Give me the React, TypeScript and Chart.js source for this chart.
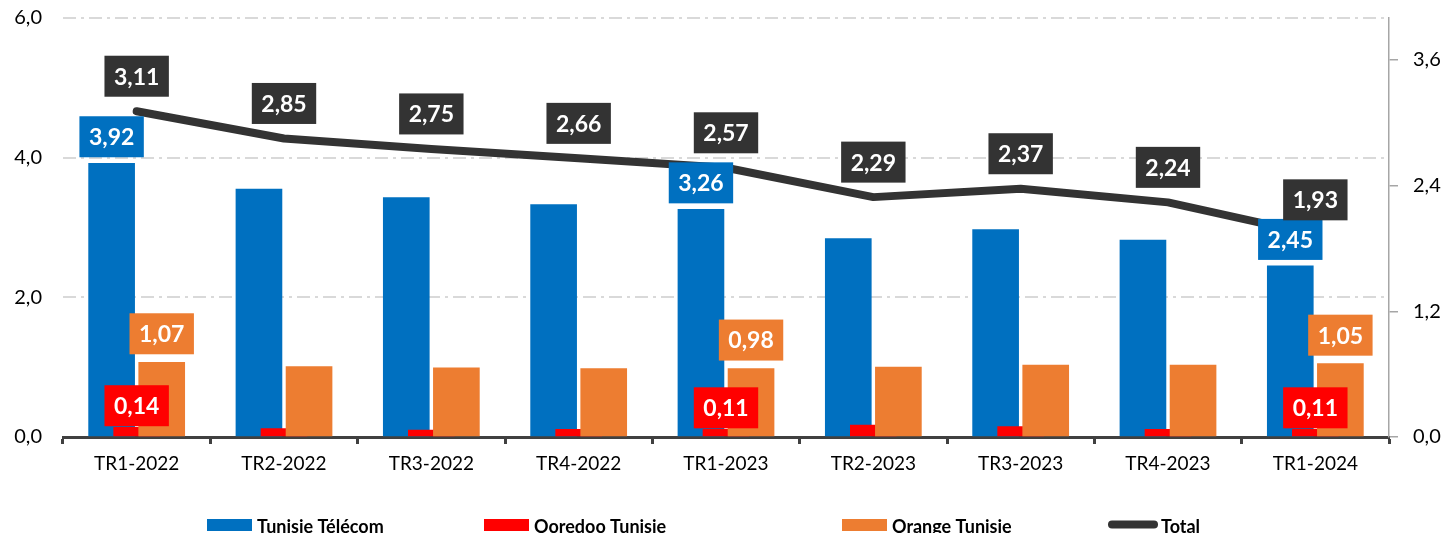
import React, { useEffect, useRef } from 'react';
import { Chart, registerables } from 'chart.js';

Chart.register(...registerables);

const categories = ['TR1-2022', 'TR2-2022', 'TR3-2022', 'TR4-2022', 'TR1-2023', 'TR2-2023', 'TR3-2023', 'TR4-2023', 'TR1-2024'];
const tunisieTelecom = [3.92, 3.55, 3.43, 3.33, 3.26, 2.84, 2.97, 2.82, 2.45];
const ooredooTunisie = [0.14, 0.12, 0.10, 0.11, 0.11, 0.17, 0.15, 0.11, 0.11];
const orangeTunisie = [1.07, 1.01, 0.99, 0.98, 0.98, 1.00, 1.03, 1.03, 1.05];
const totalMarket = [3.11, 2.85, 2.75, 2.66, 2.57, 2.29, 2.37, 2.24, 1.93];
const leftTicks = [0, 2, 4, 6];
const rightTicks = [0, 1.2, 2.4, 3.6];
const labelledBarIndexes = [0, 4, 8];

const BLUE = '#0070C0';
const RED = '#FF0000';
const ORANGE = '#ED7D31';
const DARK = '#333333';
const FONT = 'Lato, "Open Sans", sans-serif';
const BAR_SHIFT = 0.17;

const fmt = (v: number, d: number) => v.toFixed(d).replace('.', ',');

const barPoints = (vals: number[], shift: number) => vals.map((v, i) => ({ x: i + shift, y: v }));

const labelStyles: Record<number, { bg: string; dy: number; all: boolean }> = {
  0: { bg: DARK, dy: -35, all: true },
  1: { bg: BLUE, dy: -26.5, all: false },
  2: { bg: RED, dy: -21.5, all: false },
  3: { bg: ORANGE, dy: -28.5, all: false },
};

const boxLabelPlugin = {
  id: 'boxLabels',
  afterDatasetsDraw(chart: any) {
    const ctx = chart.ctx as CanvasRenderingContext2D;
    ctx.save();
    ctx.font = `bold 23px ${FONT}`;
    ctx.textAlign = 'center';
    ctx.textBaseline = 'middle';
    const drawOrder = [1, 3, 2, 0];
    drawOrder.forEach((di) => {
      const st = labelStyles[di];
      const meta = chart.getDatasetMeta(di);
      const ds = chart.data.datasets[di];
      meta.data.forEach((el: any, i: number) => {
        if (!st.all && !labelledBarIndexes.includes(i)) return;
        const raw = ds.data[i];
        const v = typeof raw === 'number' ? raw : raw.y;
        const text = fmt(v, 2);
        const w = ctx.measureText(text).width + 19;
        const h = 41;
        const cx = el.x;
        const cy = el.y + st.dy;
        ctx.fillStyle = st.bg;
        ctx.fillRect(cx - w / 2, cy - h / 2, w, h);
        ctx.fillStyle = '#FFFFFF';
        ctx.fillText(text, cx, cy + 1);
      });
    });
    ctx.restore();
  },
};

const legendItems = [
  { label: 'Tunisie Télécom', color: BLUE, x: 207, line: false },
  { label: 'Ooredoo Tunisie', color: RED, x: 484, line: false },
  { label: 'Orange Tunisie', color: ORANGE, x: 842, line: false },
  { label: 'Total', color: DARK, x: 1108, line: true },
];

const legendPlugin = {
  id: 'customLegend',
  afterDraw(chart: any) {
    const ctx = chart.ctx as CanvasRenderingContext2D;
    ctx.save();
    ctx.font = `bold 18px ${FONT}`;
    ctx.textAlign = 'left';
    ctx.textBaseline = 'alphabetic';
    legendItems.forEach((it) => {
      if (it.line) {
        ctx.strokeStyle = it.color;
        ctx.lineWidth = 8;
        ctx.lineCap = 'round';
        ctx.beginPath();
        ctx.moveTo(it.x + 4, 524.5);
        ctx.lineTo(it.x + 46, 524.5);
        ctx.stroke();
        ctx.fillStyle = '#000';
        ctx.fillText(it.label, it.x + 53, 533);
      } else {
        ctx.fillStyle = it.color;
        ctx.fillRect(it.x, 519, 45, 12);
        ctx.fillStyle = '#000';
        ctx.fillText(it.label, it.x + 50, 533);
      }
    });
    ctx.restore();
  },
};

export default function App() {
  const canvasRef = useRef<HTMLCanvasElement | null>(null);

  useEffect(() => {
    const canvas = canvasRef.current;
    if (!canvas) return;
    const tickFont = { family: FONT, size: 20 };
    const chart = new Chart(canvas, {
      type: 'bar',
      data: {
        labels: categories,
        datasets: [
          {
            type: 'line',
            label: 'Total',
            data: totalMarket,
            xAxisID: 'x',
            yAxisID: 'y2',
            borderColor: DARK,
            backgroundColor: DARK,
            borderWidth: 8,
            pointRadius: 0,
            borderCapStyle: 'round',
            borderJoinStyle: 'round',
            tension: 0,
            order: 0,
          } as any,
          {
            type: 'bar',
            label: 'Tunisie Télécom',
            data: barPoints(tunisieTelecom, -BAR_SHIFT),
            xAxisID: 'xb',
            yAxisID: 'y',
            backgroundColor: BLUE,
            grouped: false,
            barThickness: 46,
            order: 3,
          } as any,
          {
            type: 'bar',
            label: 'Ooredoo Tunisie',
            data: barPoints(ooredooTunisie, 0),
            xAxisID: 'xb',
            yAxisID: 'y',
            backgroundColor: RED,
            grouped: false,
            barThickness: 46,
            order: 2,
          } as any,
          {
            type: 'bar',
            label: 'Orange Tunisie',
            data: barPoints(orangeTunisie, BAR_SHIFT),
            xAxisID: 'xb',
            yAxisID: 'y',
            backgroundColor: ORANGE,
            grouped: false,
            barThickness: 46,
            order: 1,
          } as any,
        ],
      },
      options: {
        responsive: false,
        animation: false,
        layout: { padding: { top: 18, left: 0, right: 0, bottom: 0 } },
        plugins: {
          legend: { display: false },
          tooltip: { enabled: false },
        },
        scales: {
          x: {
            type: 'category',
            position: 'bottom',
            offset: true,
            grid: {
              offset: true,
              drawOnChartArea: false,
              drawTicks: true,
              tickLength: 7,
              tickWidth: 3,
              tickColor: '#404040',
            },
            border: { display: true, color: '#404040', width: 3 },
            ticks: {
              font: { family: FONT, size: 19 },
              color: '#000',
              padding: 8,
              maxRotation: 0,
              autoSkip: false,
            },
            afterFit: (s: any) => {
              s.height = 96;
            },
          },
          xb: {
            type: 'linear',
            display: false,
            offset: false,
            bounds: 'ticks',
            min: -0.5,
            max: categories.length - 0.5,
            grid: { offset: false },
          },
          y: {
            position: 'left',
            min: 0,
            max: 6,
            afterBuildTicks: (s: any) => {
              s.ticks = leftTicks.map((v) => ({ value: v }));
            },
            grid: { color: '#D9D9D9', lineWidth: 2, drawTicks: false },
            border: { display: false, dash: [13, 5, 3, 5] },
            ticks: {
              font: tickFont,
              color: '#000',
              padding: 21,
              callback: (v: any) => fmt(Number(v), 1),
            },
            afterFit: (s: any) => {
              s.width = 63;
              s.paddingTop = 0;
              s.paddingBottom = 0;
            },
          },
          y2: {
            position: 'right',
            min: 0,
            max: 4,
            afterBuildTicks: (s: any) => {
              s.ticks = rightTicks.map((v) => ({ value: v }));
            },
            grid: {
              drawOnChartArea: false,
              drawTicks: true,
              tickLength: 9,
              color: '#A6A6A6',
              lineWidth: 1.5,
            },
            border: { display: true, color: '#A6A6A6', width: 1.5 },
            ticks: {
              font: tickFont,
              color: '#000',
              padding: 15,
              callback: (v: any) => fmt(Number(v), 1),
            },
            afterFit: (s: any) => {
              s.width = 60;
              s.paddingTop = 0;
              s.paddingBottom = 0;
            },
          },
        },
      } as any,
      plugins: [boxLabelPlugin, legendPlugin],
    });
    return () => chart.destroy();
  }, []);

  return (
    <div style={{ position: 'absolute', left: 0, top: 0, width: 1449, height: 533, background: '#fff' }}>
      <canvas ref={canvasRef} width={1449} height={533} style={{ display: 'block' }} />
    </div>
  );
}
